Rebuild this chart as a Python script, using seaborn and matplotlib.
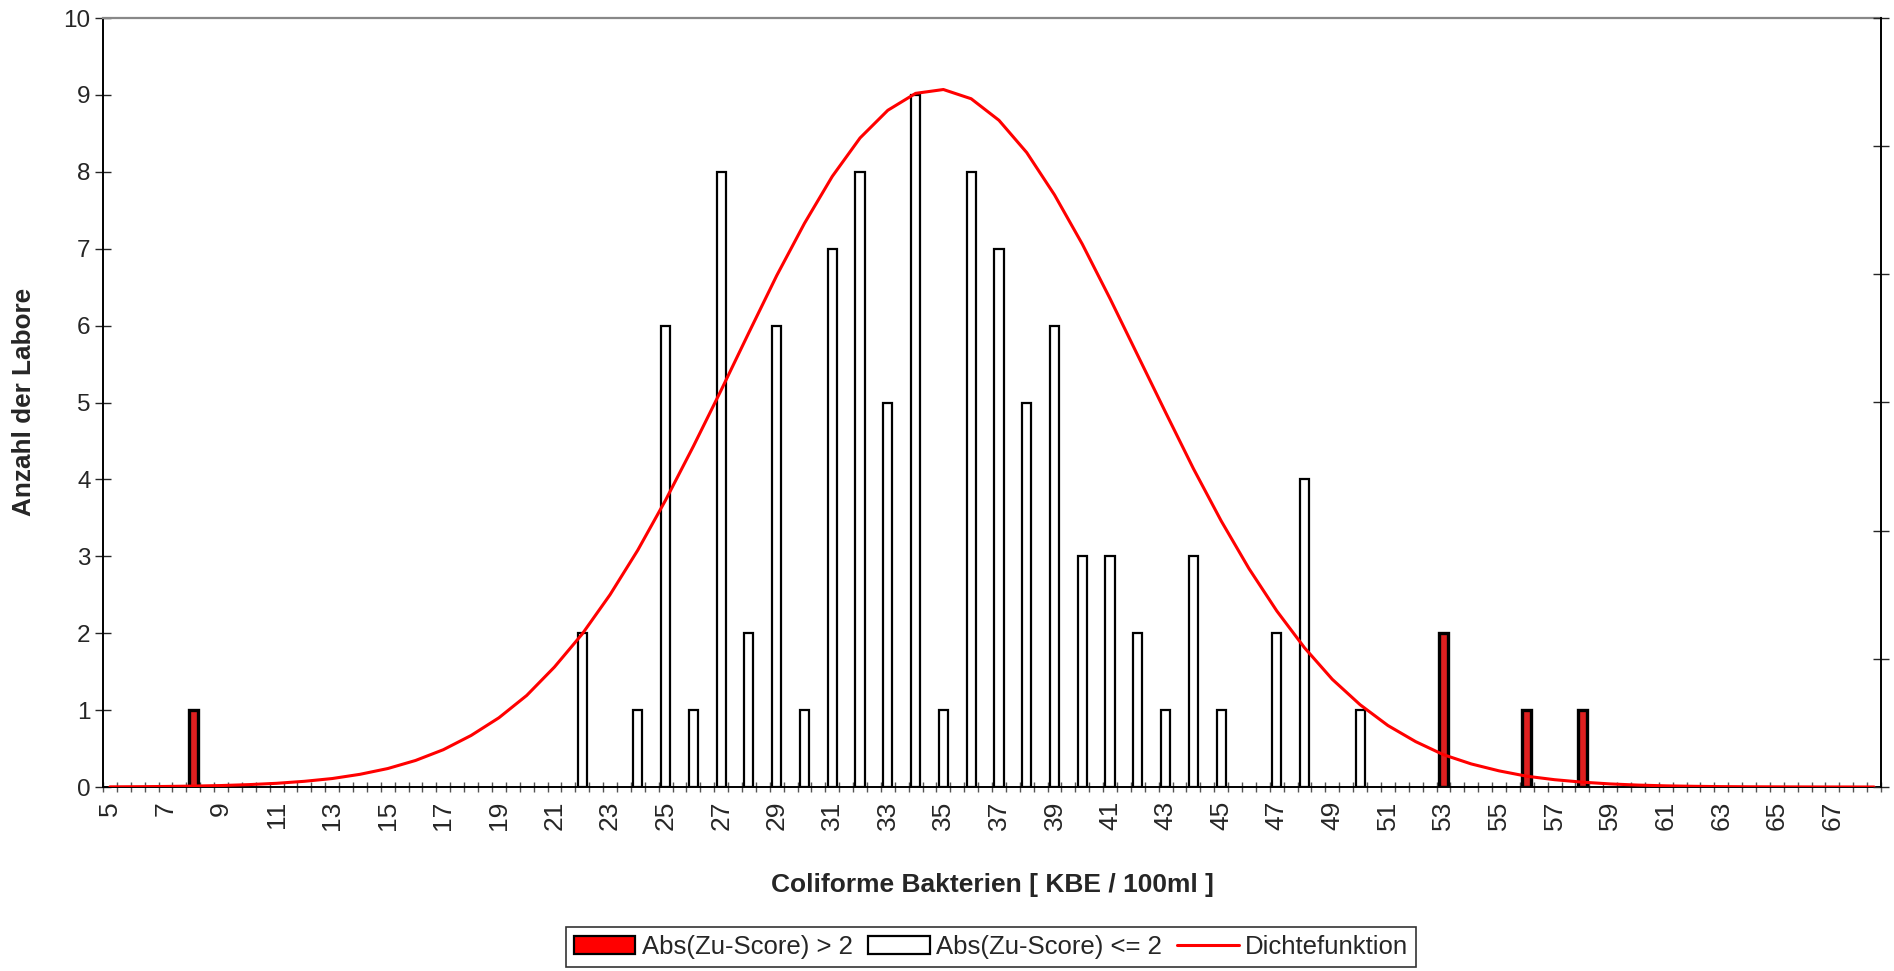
import numpy as np
import pandas as pd
import matplotlib
matplotlib.use('Agg')
import matplotlib.pyplot as plt
import seaborn as sns
from matplotlib.patches import Patch
from matplotlib.lines import Line2D
from matplotlib.ticker import FixedLocator, NullFormatter

sns.set_style('white')
plt.rcParams['font.family'] = ['Liberation Sans', 'DejaVu Sans']

# labs with |z| > 2 (red bars)
red_x = [8, 53, 56, 58]
red_n = [1, 2, 1, 1]

# labs with |z| <= 2 (white bars)
white_x = [22, 24, 25, 26, 27, 28, 29, 30, 31, 32, 33, 34, 35, 36, 37, 38, 39,
           40, 41, 42, 43, 44, 45, 47, 48, 50]
white_n = [2, 1, 6, 1, 8, 2, 6, 1, 7, 8, 5, 9, 1, 8, 7, 5, 6,
           3, 3, 2, 1, 3, 1, 2, 4, 1]

# density curve (in units of the left axis)
dens_x = list(range(5, 69)) + [68.5]
dens_y = [0.002, 0.004, 0.007, 0.012, 0.019, 0.031, 0.048, 0.074, 0.11, 0.165,
          0.24, 0.345, 0.485, 0.67, 0.90, 1.19, 1.56, 1.99, 2.50, 3.08,
          3.73, 4.43, 5.16, 5.91, 6.65, 7.33, 7.94, 8.44, 8.80, 9.02,
          9.07, 8.95, 8.67, 8.25, 7.70, 7.06, 6.35, 5.61, 4.87, 4.14,
          3.46, 2.84, 2.29, 1.81, 1.40, 1.07, 0.80, 0.59, 0.42, 0.30,
          0.21, 0.14, 0.095, 0.063, 0.04, 0.025, 0.015, 0.009, 0.005, 0.003,
          0.002, 0.001, 0.0005, 0.0003, 0.0002]

lab_red = 'Abs(Zu-Score) > 2'
lab_white = 'Abs(Zu-Score) <= 2'
lab_line = 'Dichtefunktion'

df = pd.DataFrame({'wert': red_x + white_x,
                   'anzahl': red_n + white_n,
                   'gruppe': [lab_red] * len(red_x) + [lab_white] * len(white_x)})

fig = plt.figure(figsize=(18.94, 9.71), dpi=100)
ax = fig.add_axes([103 / 1894, 1 - 787 / 971, (1881 - 103) / 1894, (787 - 18) / 971])

sns.barplot(data=df, x='wert', y='anzahl', hue='gruppe', native_scale=True, dodge=False,
            width=0.33, palette={lab_red: '#ff0000', lab_white: 'white'},
            edgecolor='black', linewidth=1.6, errorbar=None, legend=False, ax=ax)
for p in ax.patches:
    if p.get_facecolor()[1] < 0.5:  # red ones get a heavier outline
        p.set_linewidth(2.4)

sns.lineplot(x=dens_x, y=dens_y, color='#ff0000', linewidth=2.2, ax=ax, zorder=5)

ax.set_xlim(4.75, 68.75)
ax.set_ylim(0, 10)
ax.set_xlabel('')
ax.set_ylabel('')

# category axis: ticks between categories, labels every 2
ax.xaxis.set_major_locator(FixedLocator(list(range(5, 68, 2))))
ax.set_xticklabels([str(v) for v in range(5, 68, 2)], rotation=90)
ax.xaxis.set_minor_locator(FixedLocator(list(np.arange(4.75, 68.8, 0.5))))
ax.xaxis.set_minor_formatter(NullFormatter())
ax.tick_params(axis='x', which='major', length=0, pad=10, labelsize=19)
ax.tick_params(axis='x', which='minor', direction='inout', length=7.5, width=1, color='#555555', bottom=True)
ax.set_yticks(range(0, 11))
ax.tick_params(axis='y', direction='inout', length=12, width=1, labelsize=17.5, left=True, pad=3)

for s in ['left', 'bottom']:
    ax.spines[s].set_color('black')
    ax.spines[s].set_linewidth(1.4)
ax.spines['top'].set_color('#888888')
ax.spines['top'].set_linewidth(1.6)
ax.spines['right'].set_visible(False)

# secondary axis of the density (unlabelled)
ax2 = ax.twinx()
ax2.set_ylim(0, 6)
ax2.set_yticks(range(0, 7))
ax2.yaxis.set_major_formatter(NullFormatter())
ax2.tick_params(axis='y', direction='inout', length=12, width=1, right=True)
for s in ['left', 'top', 'bottom']:
    ax2.spines[s].set_visible(False)
ax2.spines['right'].set_color('black')
ax2.spines['right'].set_linewidth(1.4)

fig.text(992 / 1894, 1 - 885 / 971, 'Coliforme Bakterien [ KBE / 100ml ]',
         ha='center', va='center', fontsize=19, fontweight='bold')
fig.text(24 / 1894, 1 - 402 / 971, 'Anzahl der Labore', rotation=90,
         ha='center', va='center', fontsize=18.8, fontweight='bold')

handles = [Patch(facecolor='#ff0000', edgecolor='black', linewidth=1.6),
           Patch(facecolor='white', edgecolor='black', linewidth=1.6),
           Line2D([0], [0], color='#ff0000', linewidth=2.2)]
leg = fig.legend(handles, [lab_red, lab_white, lab_line], ncol=3, loc='center',
                 bbox_to_anchor=(991 / 1894, 1 - 947 / 971), fontsize=18.5,
                 frameon=True, fancybox=False, edgecolor='black', borderpad=0.3,
                 handlelength=2.4, handletextpad=0.25, columnspacing=0.6)
leg.get_frame().set_linewidth(1.2)

fig.savefig('out.png', dpi=100)
